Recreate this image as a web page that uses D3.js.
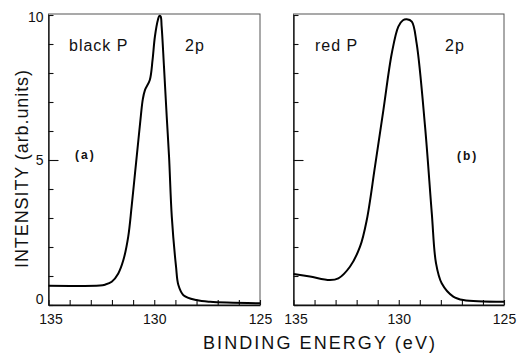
<!DOCTYPE html>
<html>
<head>
<meta charset="utf-8">
<script src="https://cdn.jsdelivr.net/npm/d3@7"></script>
<style>
  html, body { margin: 0; padding: 0; background: #fff; }
  svg { display: block; }
  text { font-family: "Liberation Sans", Arial, sans-serif; fill: #111; }
</style>
</head>
<body>
<svg id="chart" width="517" height="354"></svg>
<script>
// ---- Data ----
const blackEnergy = [135.0, 132.57, 132.33, 132.01, 131.70, 131.46, 131.23, 131.07, 130.91, 130.75, 130.63, 130.54, 130.44, 130.21, 130.08, 129.97, 129.82, 129.76, 129.70, 129.65, 129.54, 129.41, 129.30, 129.17, 128.97, 128.86, 128.62, 128.0, 127.36, 125.0];
const blackIntensity = [0.66, 0.67, 0.70, 0.80, 1.09, 1.55, 2.36, 3.39, 4.54, 5.69, 6.55, 7.10, 7.41, 7.76, 8.45, 9.25, 9.85, 9.97, 9.95, 9.60, 8.22, 6.49, 5.11, 3.04, 1.32, 0.69, 0.34, 0.17, 0.11, 0.06];

const redEnergy = [135.0, 134.22, 133.27, 132.87, 132.32, 131.84, 131.52, 131.13, 130.73, 130.33, 130.02, 129.80, 129.62, 129.38, 129.15, 128.75, 128.43, 128.23, 127.96, 127.41, 126.93, 125.0];
const redIntensity = [1.07, 0.98, 0.86, 0.92, 1.32, 2.01, 2.93, 4.77, 6.72, 8.68, 9.60, 9.82, 9.85, 9.77, 9.02, 6.15, 3.16, 1.44, 0.75, 0.29, 0.17, 0.11];

const xTickValues = [135, 134, 133, 132, 131, 130, 129, 128, 127, 126, 125];
const xTickLabels = [135, 130, 125];
const yMinorTicks = [1, 2, 3, 4, 6, 7, 8, 9];
const yMajorTicks = [0, 5, 10];

const panelNames = ["black P", "red P"];
const panelTags = ["(a)", "(b)"];
const orbitalLabel = "2p";
const xTitle = "BINDING ENERGY (eV)";
const yTitle = "INTENSITY (arb.units)";

// ---- Layout ----
const svg = d3.select("#chart");
const frameTop = 14, frameBottom = 305;
const panels = [
  { x0: 48.5, x1: 260, energy: blackEnergy, intensity: blackIntensity, name: panelNames[0], tag: panelTags[0], nameX: 69, orbX: 185, tagX: 75, tagY: 159, labels: true },
  { x0: 293.5, x1: 504, energy: redEnergy, intensity: redIntensity, name: panelNames[1], tag: panelTags[1], nameX: 315, orbX: 445, tagX: 457, tagY: 160, labels: false }
];

const y = d3.scaleLinear().domain([0, 10]).range([frameBottom, 15]);

panels.forEach(p => {
  const x = d3.scaleLinear().domain([135, 125]).range([p.x0, p.x1]);
  const g = svg.append("g");

  // frame (top & right lighter)
  g.append("rect")
    .attr("x", p.x0).attr("y", frameTop)
    .attr("width", p.x1 - p.x0).attr("height", frameBottom - frameTop)
    .attr("fill", "none").attr("stroke", "#555").attr("stroke-width", 1);

  // bottom axis: inward ticks
  const xAxis = d3.axisBottom(x)
    .tickValues(xTickValues)
    .tickSizeInner(-5).tickSizeOuter(0).tickPadding(9)
    .tickFormat(d => xTickLabels.includes(d) ? d : "");
  const gx = g.append("g").attr("transform", `translate(0,${frameBottom})`).call(xAxis);
  gx.select(".domain").attr("stroke", "#111").attr("stroke-width", 1.3);
  gx.selectAll(".tick line").attr("stroke", "#111").attr("stroke-width", 1.1);
  gx.selectAll("text").style("font-size", "14px").attr("fill", "#111")
    .attr("dx", d => d === 135 ? 2 : 0);

  // left axis: minor ticks
  const yMinor = d3.axisLeft(y).tickValues(yMinorTicks)
    .tickSizeInner(-5).tickSizeOuter(0).tickFormat("");
  const gy = g.append("g").attr("transform", `translate(${p.x0},0)`).call(yMinor);
  gy.select(".domain").attr("stroke", "#111").attr("stroke-width", 1.3);
  gy.selectAll(".tick line").attr("stroke", "#111").attr("stroke-width", 1.1);

  // left axis: major ticks (labels on first panel)
  const yMajor = d3.axisLeft(y).tickValues(yMajorTicks)
    .tickSizeInner(-10).tickSizeOuter(0).tickPadding(5)
    .tickFormat(d => p.labels ? d : "");
  const gy2 = g.append("g").attr("transform", `translate(${p.x0},0)`).call(yMajor);
  gy2.select(".domain").remove();
  gy2.selectAll(".tick line").attr("stroke", "#111").attr("stroke-width", 1.1)
     .attr("x2", d => (d === 0 || d === 10) ? 5 : 10);
  gy2.selectAll("text").style("font-size", "14px").attr("fill", "#111")
     .attr("y", d => d === 0 ? -6 : (d === 10 ? 2 : 0));

  // curve
  const pts = p.energy.map((e, i) => [e, p.intensity[i]]);
  g.append("path")
    .datum(pts)
    .attr("fill", "none")
    .attr("stroke", "#000")
    .attr("stroke-width", 2)
    .attr("stroke-linejoin", "round")
    .attr("d", d3.line().x(d => x(d[0])).y(d => y(d[1])).curve(d3.curveCatmullRom.alpha(0.5)));

  // annotations
  g.append("text").attr("x", p.nameX).attr("y", 51)
    .style("font-size", "16px").style("letter-spacing", "1px").text(p.name);
  g.append("text").attr("x", p.orbX).attr("y", 51)
    .style("font-size", "16px").style("letter-spacing", "1px").text(orbitalLabel);
  g.append("text").attr("x", p.tagX).attr("y", p.tagY)
    .style("font-size", "12px").style("font-weight", "bold").style("letter-spacing", "2px").text(p.tag);
});

// axis titles
svg.append("text")
  .attr("x", 203).attr("y", 349)
  .attr("textLength", 232).attr("lengthAdjust", "spacing")
  .style("font-size", "18px").text(xTitle);

svg.append("text")
  .attr("transform", "translate(28,169) rotate(-90)")
  .attr("text-anchor", "middle")
  .attr("textLength", 198).attr("lengthAdjust", "spacing")
  .style("font-size", "18px").text(yTitle);
</script>
</body>
</html>
